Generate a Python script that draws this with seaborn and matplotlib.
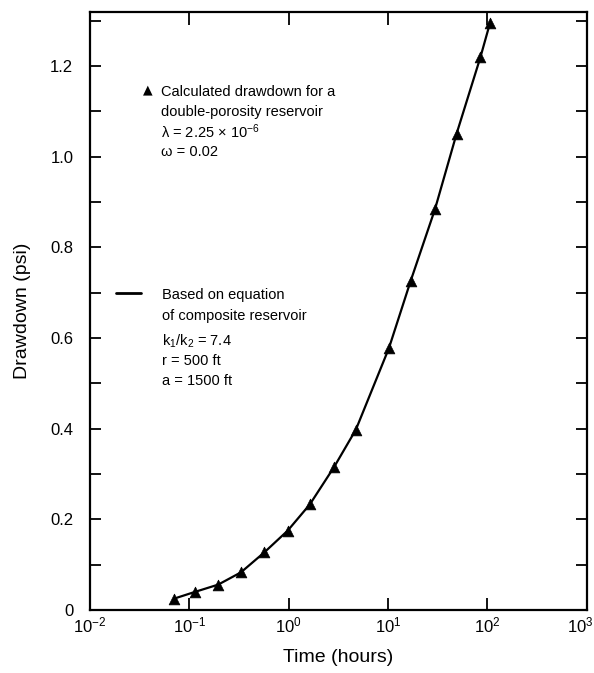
import matplotlib
matplotlib.use("Agg")
import matplotlib.pyplot as plt
import matplotlib.transforms as mtransforms
import seaborn as sns
import pandas as pd
from matplotlib.ticker import FixedLocator, MultipleLocator, NullLocator

# ---- data ----
time_hours = [0.07, 0.114, 0.195, 0.33, 0.567, 0.975, 1.63, 2.87, 4.74, 10.2, 16.8, 29.6, 48.9, 85.0, 105.7]
drawdown_psi = [0.025, 0.040, 0.056, 0.083, 0.127, 0.175, 0.233, 0.316, 0.398, 0.578, 0.725, 0.884, 1.051, 1.220, 1.294]

x_ticks = [1e-2, 1e-1, 1e0, 1e1, 1e2, 1e3]
x_tick_labels = ["$10^{-2}$", "$10^{-1}$", "$10^{0}$", "$10^{1}$", "$10^{2}$", "$10^{3}$"]
y_ticks = [0, 0.2, 0.4, 0.6, 0.8, 1.0, 1.2]
y_tick_labels = ["0", "0.2", "0.4", "0.6", "0.8", "1.0", "1.2"]

legend_points = ["Calculated drawdown for a", "double-porosity reservoir",
                 "λ = 2.25 × 10$^{-6}$", "ω = 0.02"]
legend_line = ["Based on equation", "of composite reservoir",
               "k$_1$/k$_2$ = 7.4", "r = 500 ft", "a = 1500 ft"]

df = pd.DataFrame({"time": time_hours, "drawdown": drawdown_psi})

sns.set_style("ticks")
plt.rcParams["font.family"] = ["Liberation Sans", "DejaVu Sans"]
plt.rcParams["mathtext.fontset"] = "custom"
plt.rcParams["mathtext.rm"] = "Liberation Sans"
plt.rcParams["mathtext.it"] = "Liberation Sans:italic"
plt.rcParams["mathtext.default"] = "regular"
plt.rcParams["axes.labelcolor"] = "black"
plt.rcParams["text.color"] = "black"

fig = plt.figure(figsize=(5.94, 6.73), dpi=100)
ax = fig.add_axes([0.1515, 0.0936, 0.8365, 0.8884])

sns.lineplot(data=df, x="time", y="drawdown", ax=ax, color="black", linewidth=1.6)
sns.scatterplot(data=df, x="time", y="drawdown", ax=ax, marker="^", color="black",
                s=60, edgecolor="black", linewidth=0.5, zorder=3)

ax.set_xscale("log")
ax.set_xlim(1e-2, 1e3)
ax.set_ylim(0, 1.319)

ax.xaxis.set_major_locator(FixedLocator(x_ticks))
ax.set_xticks(x_ticks)
ax.set_xticklabels(x_tick_labels)
ax.xaxis.set_minor_locator(NullLocator())
ax.set_yticks(y_ticks)
ax.set_yticklabels(y_tick_labels)
ax.yaxis.set_minor_locator(MultipleLocator(0.1))

ax.tick_params(axis="both", which="both", direction="in", top=True, right=True,
               width=1.3, colors="black")
ax.tick_params(axis="x", which="major", length=9, pad=4, labelsize=12)
ax.tick_params(axis="y", which="major", length=8, pad=12, labelsize=12)
ax.tick_params(axis="y", which="minor", length=8)

# nudge the last x tick label so it stays inside the picture
lbls = ax.get_xticklabels()
offset = mtransforms.ScaledTranslation(-7 / 100, 0, fig.dpi_scale_trans)
lbls[-1].set_transform(lbls[-1].get_transform() + offset)

for sp in ax.spines.values():
    sp.set_linewidth(1.6)
    sp.set_color("black")

ax.set_xlabel("Time (hours)", fontsize=14, labelpad=10, color="black")
ax.set_ylabel("Drawdown (psi)", fontsize=14, labelpad=14, color="black")

# legend-like annotations in figure pixel coordinates
def px(x, y):
    return x / 594, 1 - y / 673

fig.text(*px(148, 90), "▲", fontsize=9, ha="center", va="center", family=["DejaVu Sans"])
ys = [92, 112, 132, 152]
for t, y in zip(legend_points, ys):
    fig.text(*px(161, y), t, fontsize=10.5, ha="left", va="center")

fig.add_artist(plt.Line2D([116 / 594, 141 / 594], [1 - 293 / 673, 1 - 293 / 673],
                          color="black", linewidth=2))
ys2 = [295, 316, 341, 361, 381]
for t, y in zip(legend_line, ys2):
    fig.text(*px(162, y), t, fontsize=10.5, ha="left", va="center")

fig.savefig("out.png", dpi=100)
